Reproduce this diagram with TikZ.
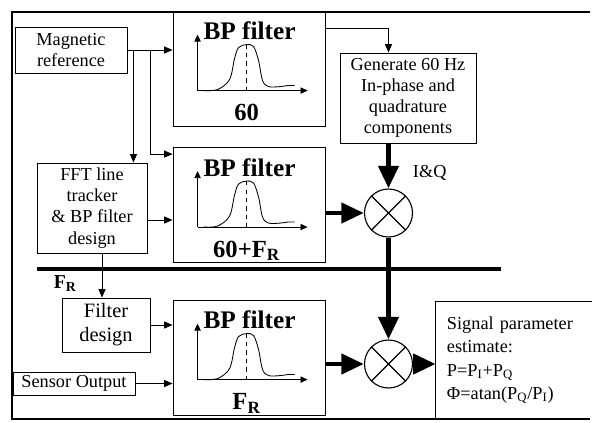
\documentclass[tikz,border=0pt]{standalone}
\usepackage{fontspec}
\setmainfont{Liberation Serif}
\usetikzlibrary{arrows.meta}

% band-pass filter block: name, centre, centre frequency
\newcommand{\bpbox}[3]{%
  \node[filterbox] (#1) at (#2) {};
  \begin{scope}[shift={(#1.north west)}]
    \node[bptitle] (#1title) at (77,29) {BP filter};
    \draw[axis] (25,80) -- (25,24);
    \draw[axis] (25,80) -- (135,80);
    \draw[line width=0.6pt] plot[smooth,tension=0.55] coordinates {(31,80) (45,79) (57,69) (62,48) (66,37) (74,34) (81,36) (86,50) (90,70) (96,76) (108,76) (115,75) (122,75)};
    \draw[dashed,line width=0.5pt] (74,34) -- (74,80);
    \node[bplabel] (#1label) at (74,110) {#3};
  \end{scope}
}

\begin{document}
\begin{tikzpicture}[x=0.025cm,y=-0.025cm,
  box/.style={draw,line width=0.6pt,inner sep=1pt,align=center,font=\fontsize{13}{15}\selectfont},
  filterbox/.style={draw,line width=0.6pt,minimum width=3.8cm,minimum height=2.875cm},
  bptitle/.style={anchor=base,font=\bfseries\fontsize{18}{20}\selectfont},
  bplabel/.style={anchor=base,font=\bfseries\fontsize{17.5}{20}\selectfont},
  axis/.style={line width=0.6pt,-{Triangle[length=5pt,width=4.5pt]}},
  mixer/.style={draw,circle,line width=0.8pt,minimum size=1.2cm,inner sep=0pt},
  arr/.style={line width=0.6pt,-{Triangle[length=6pt,width=5pt]}},
  flow/.style={line width=3.5pt,-{Triangle[length=16pt,width=14pt]}},
  bus/.style={line width=3.2pt},
  frame/.style={line width=1.2pt}]
\useasboundingbox (0,0) rectangle (592,422);

\draw[frame] (590,12) -- (12,12) -- (12,419) -- (590,419);

% blocks
\node[box,minimum width=2.8cm,minimum height=1.15cm] (magref) at (71,50) {Magnetic\\reference};
\node[box,minimum width=2.75cm,minimum height=2.25cm] (fft) at (92,208) {FFT line\\tracker\\\& BP filter\\design};
\node[box,minimum width=2.2cm,minimum height=1.35cm,font=\fontsize{14.5}{17}\selectfont] (fdes) at (106,325) {Filter\\design};
\node[box,minimum width=3.05cm,minimum height=0.575cm] (sensor) at (74,383.5) {Sensor Output};
\node[box,minimum width=3.4cm,minimum height=2.25cm] (gen) at (408,98) {Generate 60 Hz\\In-phase and\\quadrature\\components};
\bpbox{bp1}{249,68.5}{60}
\bpbox{bp2}{249,205}{60+F\textsubscript{R}}
\bpbox{bp3}{249,357.5}{F\textsubscript{R}}
\node[mixer] (mult1) at (388.5,213) {};
\node[mixer] (mult2) at (388.5,364) {};
\foreach \m in {mult1,mult2}
  \draw[line width=0.8pt] (\m.north west) -- (\m.south east) (\m.north east) -- (\m.south west);
\node[minimum width=3.9cm,minimum height=2.925cm,text width=3.35cm,inner xsep=0.275cm,align=left,
  font=\fontsize{13}{16.5}\selectfont] (est) at (514,360.5)
  {Signal parameter\\estimate:\\P=P\textsubscript{I}+P\textsubscript{Q}\\Φ=atan(P\textsubscript{Q}/P\textsubscript{I})};
\draw[line width=0.6pt] (est.north east) -| (est.south west);

% labels
\node[anchor=base west,font=\fontsize{13}{15}\selectfont] (iq) at (408,177) {I\&Q};
\node[anchor=base west,font=\bfseries\fontsize{14}{16}\selectfont] (fr) at (49,288) {F\textsubscript{R}};

% thin connectors
\draw[arr] (magref.east) -- (magref.east -| bp1.west);
\draw[arr] ([xshift=0.15cm]magref.east) -- ([xshift=0.15cm]magref.east |- fft.north);
\draw[arr] ([xshift=0.575cm]magref.east) |- ([yshift=-0.175cm]bp2.north west);
\draw[arr] ([yshift=-0.45cm]bp1.north east) -| (mult1 |- gen.north);
\draw[arr] ([yshift=-0.3cm]fft.east) -- ([yshift=-0.3cm]fft.east -| bp2.west);
\draw[arr] ([xshift=0.25cm]fft.south) -- ([xshift=0.25cm]fft.south |- fdes.north);
\draw[arr] (fdes.east) -- (fdes.east -| bp3.west);
\draw[arr] (sensor.east) -- (sensor.east -| bp3.west);

% bus
\draw[bus] (37,269) -- (501,269);

% signal paths
\draw[flow] (mult1 |- gen.south) -- (mult1.north);
\draw[flow] (mult1 -| bp2.east) -- (mult1.west);
\draw[flow] (mult1.south) -- (mult2.north);
\draw[flow] (mult2 -| bp3.east) -- (mult2.west);
\draw[flow] (mult2.east) -- (mult2 -| est.west);
\end{tikzpicture}
\end{document}
